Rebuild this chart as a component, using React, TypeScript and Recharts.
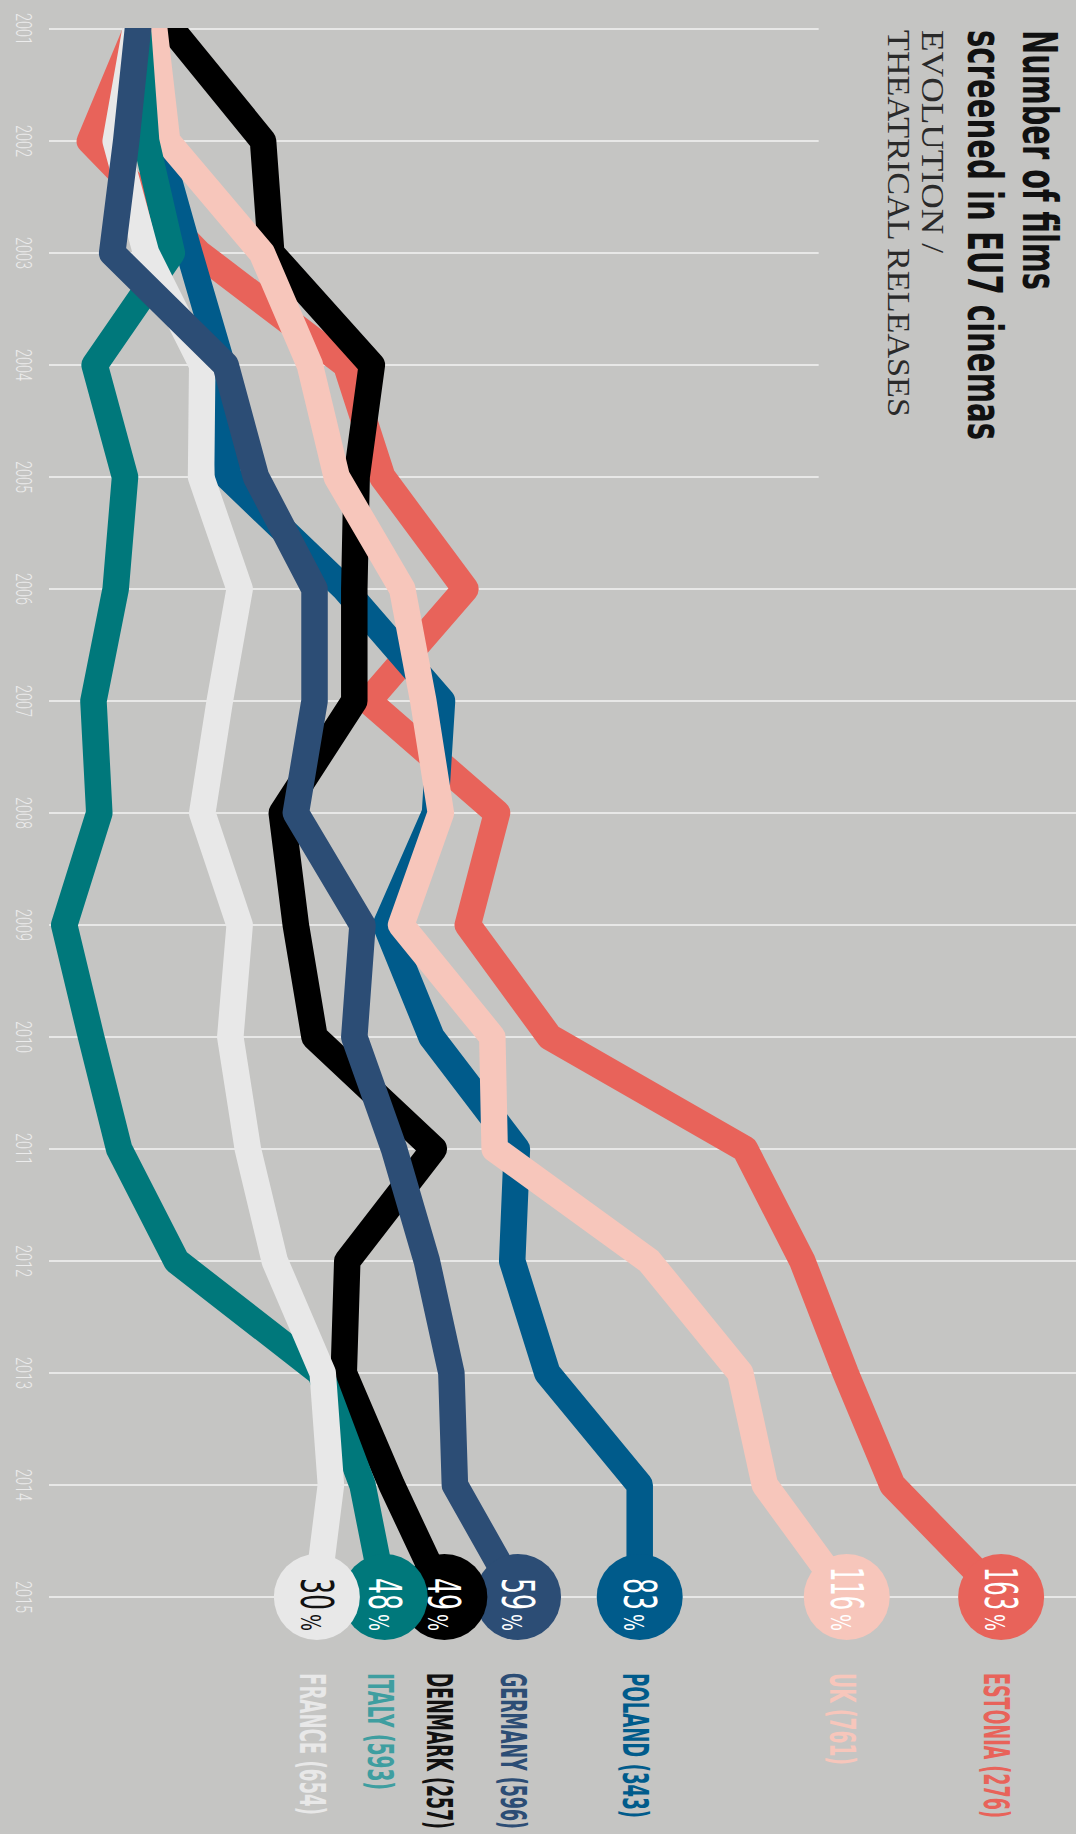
import { LineChart, Line, XAxis, YAxis, CartesianGrid } from "recharts";

// Years run down the page; the chart is drawn sideways and turned 90deg.
const years = [2001, 2002, 2003, 2004, 2005, 2006, 2007, 2008, 2009, 2010, 2011, 2012, 2013, 2014, 2015];

// relative position of each country per year
const estonia = [117, 77, 170, 296, 327, 398, 315, 425, 400, 470, 637, 686, 723, 763, 856];
const uk = [132, 143, 224, 265, 288, 344, 362, 377, 343, 421, 423, 555, 633, 654, 724];
const poland = [120, 135, 162, 190, 195, 295, 378, 372, 330, 369, 442, 438, 468, 547, 547];
const germany = [118, 108, 96, 193, 219, 269, 269, 253, 310, 303, 337, 365, 386, 389, 443];
const denmark = [147, 225, 232, 318, 305, 303, 303, 241, 253, 269, 371, 297, 294, 335, 380];
const italy = [118, 125, 147, 81, 107, 99, 80, 85, 55, 78, 102, 151, 274, 310, 329];
const france = [116, 99, 125, 173, 172, 205, 188, 173, 205, 197, 212, 235, 276, 283, 271];

const growth = { estonia: 163, uk: 116, poland: 83, germany: 59, denmark: 49, italy: 48, france: 30 };
const films = { estonia: 276, uk: 761, poland: 343, germany: 596, denmark: 257, italy: 593, france: 654 };
const names = { estonia: "ESTONIA", uk: "UK", poland: "POLAND", germany: "GERMANY", denmark: "DENMARK", italy: "ITALY", france: "FRANCE" };

const data = years.map((year, i) => ({
  year,
  estonia: estonia[i],
  uk: uk[i],
  poland: poland[i],
  germany: germany[i],
  denmark: denmark[i],
  italy: italy[i],
  france: france[i],
}));

type Key = keyof typeof growth;

const style: Record<Key, { color: string; text: string; label: string; labelLen: number }> = {
  estonia: { color: "#e8635a", text: "#ffffff", label: "#e8635a", labelLen: 145 },
  uk: { color: "#f7c6bb", text: "#ffffff", label: "#f7c6bb", labelLen: 92 },
  poland: { color: "#005b8b", text: "#ffffff", label: "#005b8b", labelLen: 145 },
  germany: { color: "#2c4d75", text: "#ffffff", label: "#2c4d75", labelLen: 156 },
  denmark: { color: "#000000", text: "#ffffff", label: "#111111", labelLen: 156 },
  italy: { color: "#00787b", text: "#ffffff", label: "#3f9ea0", labelLen: 117 },
  france: { color: "#e8e8e8", text: "#111111", label: "#e8e8e8", labelLen: 142 },
};

const lineOrder: Key[] = ["estonia", "poland", "denmark", "uk", "italy", "france", "germany"];
const badgeOrder: Key[] = ["estonia", "uk", "poland", "germany", "denmark", "italy", "france"];

const BG = "#c5c5c3";
const COND = "'Liberation Sans Narrow','DejaVu Sans Condensed','Roboto Condensed','Liberation Sans',sans-serif";
const VMIN = 42;
const VMAX = 920;

function GridLine(props: any) {
  const { x1, x2, y1, y2, index } = props;
  // the first five year lines stop short of the title
  const top = years[index] <= 2005 ? y1 + (y2 - y1) * (1 - (700 - VMIN) / (VMAX - VMIN)) : y1;
  return <line key={`grid-${index}`} x1={x1} x2={x2} y1={top} y2={y2} stroke="#f3f3f3" strokeWidth={1.5} />;
}

function YearTick(props: any) {
  const { x, y, payload } = props;
  return (
    <text x={x} y={y + 33} textAnchor="middle" fontFamily="Roboto, sans-serif" fontWeight={300} fontSize={22} fill="#ececec" textLength={32} lengthAdjust="spacingAndGlyphs">
      {payload.value}
    </text>
  );
}

const badge = (k: Key) => (p: any) => {
  const { cx, cy, index } = p;
  if (index !== years.length - 1) return <g key={`b-${k}-${index}`} />;
  const s = style[k];
  const digits = String(growth[k]);
  const numW = digits.length === 3 ? 43 : 32;
  const label = `${names[k]} (${films[k]})`;
  return (
    <g key={`b-${k}-${index}`}>
      <circle cx={cx} cy={cy} r={43} fill={s.color} />
      <text x={cx + 13 - numW} y={cy + 16} fontFamily={COND} fontWeight={500} fontSize={45} fill={s.text} textLength={numW} lengthAdjust="spacingAndGlyphs">
        {digits}
      </text>
      <text x={cx + 17} y={cy + 16} fontFamily={COND} fontSize={27} fill={s.text} textLength={17} lengthAdjust="spacingAndGlyphs">
        %
      </text>
      <text x={cx + 76} y={cy + 17} fontFamily={COND} fontWeight={700} fontSize={36} fill={s.label} textLength={s.labelLen} lengthAdjust="spacingAndGlyphs">
        {label}
      </text>
    </g>
  );
};

export default function App() {
  const CW = 1834;
  const CH = 1076;
  return (
    <div style={{ position: "absolute", top: 0, left: 0, width: 1076, height: 1834, background: BG, overflow: "hidden" }}>
      <div style={{ position: "absolute", top: 0, left: 0, width: CW, height: CH, transformOrigin: "0 0", transform: "translate(1076px, 0) rotate(90deg)" }}>
        <LineChart width={CW} height={CH} data={data} margin={{ top: 0, right: 237, bottom: 0, left: 29 }}>
          <CartesianGrid horizontal={false} vertical={GridLine} />
          <XAxis
            dataKey="year"
            type="number"
            domain={[2001, 2015]}
            ticks={years}
            interval={0}
            height={49}
            axisLine={false}
            tickLine={false}
            tickSize={0}
            tickMargin={0}
            tick={YearTick}
          />
          <YAxis type="number" domain={[VMIN, VMAX]} hide />
          {lineOrder.map((k) => (
            <Line
              key={k}
              type="linear"
              dataKey={k}
              stroke={style[k].color}
              strokeWidth={26.5}
              strokeLinejoin="round"
              strokeLinecap="square"
              dot={false}
              activeDot={false}
              isAnimationActive={false}
            />
          ))}
          {badgeOrder.map((k) => (
            <Line
              key={`badge-${k}`}
              type="linear"
              dataKey={k}
              stroke="none"
              dot={badge(k)}
              activeDot={false}
              isAnimationActive={false}
            />
          ))}
        </LineChart>
        <svg width={CW} height={CH} style={{ position: "absolute", top: 0, left: 0, pointerEvents: "none" }}>
          {/* trim the line ends flat at the first year */}
          <rect x={0} y={0} width={28} height={1027} fill={BG} />
          <text x={30} y={53} fontFamily={COND} fontWeight={700} fontSize={48} fill="#111" textLength={260} lengthAdjust="spacingAndGlyphs">
            Number of films
          </text>
          <text x={30} y={108} fontFamily={COND} fontWeight={700} fontSize={48} fill="#111" textLength={410} lengthAdjust="spacingAndGlyphs">
            screened in EU7 cinemas
          </text>
          <text x={30} y={154} fontFamily="'Liberation Serif', serif" fontSize={31} fill="#2a2a2a" textLength={223} lengthAdjust="spacingAndGlyphs">
            EVOLUTION /
          </text>
          <text x={30} y={188} fontFamily="'Liberation Serif', serif" fontSize={31} fill="#2a2a2a" textLength={387} lengthAdjust="spacingAndGlyphs">
            THEATRICAL RELEASES
          </text>
        </svg>
      </div>
    </div>
  );
}
